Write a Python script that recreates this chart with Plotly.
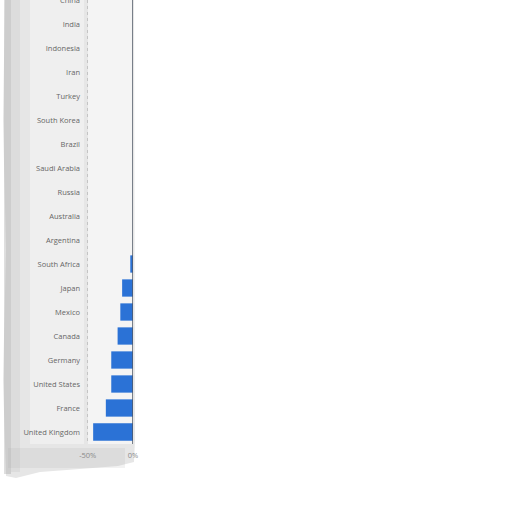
import plotly.graph_objects as go

countries = ["China", "India", "Indonesia", "Iran", "Turkey", "South Korea", "Brazil",
             "Saudi Arabia", "Russia", "Australia", "Argentina", "South Africa", "Japan",
             "Mexico", "Canada", "Germany", "United States", "France", "United Kingdom"]
values = [0, 0, 0, 0, 0, 0, 0, 0, 0, 0, 0, -3, -12, -14, -17, -24, -24, -30, -44]
x_ticks = [-50, 0]
x_tick_labels = ["-50%", "0%"]

# plot area in pixels
L, R, T, B = 85, 133, 0, 444
W, H = R - L, B - T

def px(x):
    return (x - L) / W

def py(y):
    return (B - y) / H

cats = countries[::-1]
vals = values[::-1]

fig = go.Figure()
fig.add_trace(go.Bar(
    y=cats, x=vals, orientation="h",
    marker=dict(color="#2b72d6", line=dict(width=0)),
    width=0.72,
))

paper_pts = [(4, 0), (134, 0), (135, 440), (134, 462), (118, 466), (80, 469),
             (40, 472), (16, 478), (6, 476), (3, 380), (6, 250), (3, 120), (5, 0)]
path = "M " + " L ".join(f"{px(a):.4f},{py(b):.4f}" for a, b in paper_pts) + " Z"

shapes = [
    dict(type="path", xref="paper", yref="paper", path=path,
         fillcolor="#e6e6e6", line=dict(width=0), layer="below"),
    # lighter plot-region
    dict(type="rect", xref="paper", yref="paper", x0=px(88), x1=px(133), y0=py(444), y1=py(0),
         fillcolor="#f4f4f4", line=dict(width=0), layer="below"),
    # left shadow band
    dict(type="rect", xref="paper", yref="paper", x0=px(4), x1=px(11), y0=py(474), y1=py(0),
         fillcolor="rgba(150,150,150,0.30)", line=dict(width=0), layer="below"),
    dict(type="rect", xref="paper", yref="paper", x0=px(11), x1=px(20), y0=py(472), y1=py(0),
         fillcolor="rgba(170,170,170,0.15)", line=dict(width=0), layer="below"),
    # bottom shadow
    dict(type="rect", xref="paper", yref="paper", x0=px(8), x1=px(125), y0=py(468), y1=py(448),
         fillcolor="rgba(170,170,170,0.15)", line=dict(width=0), layer="below"),
    # lighter label area
    dict(type="rect", xref="paper", yref="paper", x0=px(30), x1=px(84), y0=py(444), y1=py(0),
         fillcolor="rgba(255,255,255,0.35)", line=dict(width=0), layer="below"),
    # zero axis line
    dict(type="line", xref="x", yref="paper", x0=0, x1=0, y0=0, y1=1,
         line=dict(color="#4f5866", width=1.5)),
]

fig.update_layout(
    width=512, height=512,
    margin=dict(l=L, r=512 - R, t=T, b=512 - B),
    paper_bgcolor="white",
    plot_bgcolor="rgba(0,0,0,0)",
    showlegend=False,
    bargap=0.28,
    shapes=shapes,
    font=dict(family="Open Sans", size=7.5, color="#707070"),
    xaxis=dict(range=[-53, 0], tickvals=x_ticks, ticktext=x_tick_labels,
               showgrid=True, gridcolor="#c4c4c4", griddash="dot", gridwidth=1,
               zeroline=False, showline=False, ticks="", ticklabelstandoff=5,
               tickfont=dict(color="#8a8a8a", size=7.5),
               automargin=False, fixedrange=True),
    yaxis=dict(categoryorder="array", categoryarray=cats, range=[-0.5, 18],
               showgrid=False, zeroline=False, showline=False, ticks="",
               ticklabelstandoff=4, automargin=False, fixedrange=True,
               tickfont=dict(color="#666666", size=7.5)),
)

fig.write_html("out.html", config={"displayModeBar": False},
               post_script="document.body.style.margin='0';")
